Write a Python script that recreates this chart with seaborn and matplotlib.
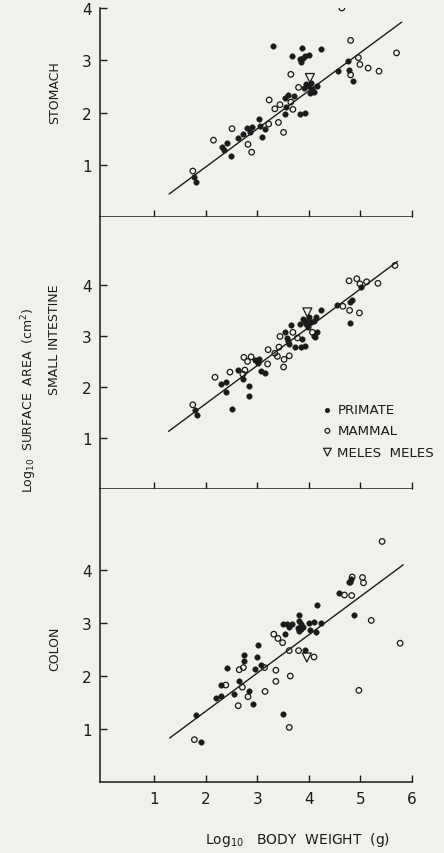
import numpy as np
import pandas as pd
import matplotlib.pyplot as plt
import seaborn as sns

# ---------------------------------------------------------------
# data (log10 body weight, log10 surface area)
# ---------------------------------------------------------------
stomach_primate_x = [1.78, 1.81, 2.31, 2.35, 2.41, 2.49, 2.63, 2.72, 2.81, 2.86, 2.89,
                     3.03, 3.05, 3.09, 3.15, 3.54, 3.60, 3.71, 3.56, 3.54, 3.82, 3.93,
                     3.31, 3.67, 3.87, 3.82, 3.85, 3.89, 3.93, 4.00, 4.24,
                     3.90, 3.95, 3.99, 4.02, 4.06, 4.10, 4.15, 4.05,
                     4.57, 4.75, 4.78, 4.85]
stomach_primate_y = [0.76, 0.67, 1.34, 1.29, 1.42, 1.17, 1.51, 1.59, 1.70, 1.62, 1.72,
                     1.88, 1.75, 1.53, 1.68, 2.27, 2.34, 2.31, 2.10, 1.97, 1.97, 1.99,
                     3.28, 3.08, 3.24, 3.03, 2.97, 3.05, 3.09, 3.11, 3.22,
                     2.47, 2.55, 2.50, 2.38, 2.45, 2.40, 2.50, 2.56,
                     2.79, 2.98, 2.82, 2.61]
stomach_mammal_x = [1.75, 2.15, 2.51, 2.82, 2.89, 3.22, 3.23, 3.34, 3.41, 3.44, 3.51,
                    3.65, 3.69, 3.65, 3.80, 4.64, 4.81, 4.96, 4.99, 5.15, 5.36, 5.70, 4.81]
stomach_mammal_y = [0.88, 1.47, 1.69, 1.39, 1.24, 1.78, 2.24, 2.07, 1.81, 2.15, 1.62,
                    2.20, 2.06, 2.73, 2.48, 4.00, 3.38, 3.05, 2.92, 2.85, 2.79, 3.14, 2.72]
stomach_meles_x = [4.02]
stomach_meles_y = [2.66]
stomach_line_x = [1.29, 5.80]
stomach_line_y = [0.44, 3.73]

intestine_primate_x = [1.79, 1.83, 2.29, 2.40, 2.40, 2.51, 2.63, 2.73, 2.84, 2.83,
                       2.96, 3.00, 3.03, 3.02, 3.07, 3.15,
                       3.53, 3.57, 3.62, 3.65, 3.73, 3.60,
                       3.83, 3.89, 3.95, 3.99, 4.02, 4.10, 3.86, 3.93, 3.84, 4.10, 4.15, 4.14,
                       3.92, 4.00, 4.24, 4.11, 4.55, 4.80, 4.84, 5.01, 4.79]
intestine_primate_y = [1.54, 1.45, 2.06, 2.09, 1.91, 1.56, 2.34, 2.16, 2.01, 1.82,
                       2.53, 2.50, 2.55, 2.47, 2.32, 2.27,
                       3.07, 2.95, 2.84, 3.22, 2.78, 2.90,
                       3.24, 3.33, 3.24, 3.17, 3.27, 3.30, 2.94, 2.81, 2.78, 2.99, 3.08, 3.37,
                       3.30, 3.38, 3.50, 2.97, 3.61, 3.66, 3.70, 3.95, 3.25]
intestine_mammal_x = [1.75, 2.18, 2.47, 2.72, 2.76, 2.74, 2.81, 2.88,
                      3.20, 3.21, 3.34, 3.39, 3.42, 3.52, 3.51, 3.62,
                      3.44, 3.69, 3.78, 4.07,
                      4.66, 4.78, 4.93, 4.99, 5.12, 5.34, 4.79, 4.98, 5.67]
intestine_mammal_y = [1.65, 2.19, 2.29, 2.25, 2.33, 2.58, 2.50, 2.59,
                      2.45, 2.73, 2.66, 2.60, 2.78, 2.54, 2.39, 2.61,
                      2.99, 3.07, 2.96, 3.07,
                      3.58, 4.08, 4.12, 4.02, 4.06, 4.03, 3.50, 3.45, 4.38]
intestine_meles_x = [3.97]
intestine_meles_y = [3.46]
intestine_line_x = [1.28, 5.72]
intestine_line_y = [1.13, 4.46]

colon_primate_x = [1.91, 1.81, 2.19, 2.29, 2.29, 2.41, 2.54, 2.65, 2.74, 2.74, 2.83,
                   2.92, 2.95, 3.00, 3.02, 3.07, 3.53, 3.49, 3.58, 3.62, 3.67, 3.50,
                   3.80, 3.81, 3.78, 3.80, 3.84, 3.88, 3.85, 3.93,
                   4.01, 4.10, 4.23, 4.16, 4.02, 4.13,
                   4.59, 4.77, 4.80, 4.81, 4.88]
colon_primate_y = [0.74, 1.25, 1.57, 1.62, 1.82, 2.14, 1.66, 1.89, 2.27, 2.39, 1.70,
                   1.47, 2.13, 2.35, 2.57, 2.19, 2.78, 2.97, 2.97, 2.92, 2.97, 1.28,
                   3.15, 3.02, 2.90, 2.84, 2.87, 2.92, 2.98, 2.48,
                   3.00, 3.01, 3.00, 3.34, 2.85, 2.82,
                   3.56, 3.76, 3.76, 3.82, 3.15]
colon_mammal_x = [1.78, 2.39, 2.63, 2.65, 2.73, 2.71, 2.82, 3.14, 3.15,
                  3.32, 3.40, 3.49, 3.36, 3.36, 3.62, 3.64, 3.62, 3.80, 4.10,
                  4.69, 4.83, 4.84, 5.04, 5.06, 5.21, 5.42, 5.77, 4.97]
colon_mammal_y = [0.79, 1.82, 1.43, 2.11, 2.15, 1.78, 1.60, 2.15, 1.70,
                  2.78, 2.70, 2.62, 2.10, 1.89, 2.47, 1.99, 1.02, 2.47, 2.35,
                  3.52, 3.51, 3.86, 3.85, 3.75, 3.04, 4.53, 2.61, 1.72]
colon_meles_x = [3.96]
colon_meles_y = [2.34]
colon_line_x = [1.30, 5.83]
colon_line_y = [0.82, 4.09]

x_ticks = [1, 2, 3, 4, 5, 6]
y_ticks = [1, 2, 3, 4]
panel_names = ['STOMACH', 'SMALL INTESTINE', 'COLON']

# ---------------------------------------------------------------
ink = '#1b1b1b'
paper = '#f1f0eb'

sns.set_theme(style='ticks')
plt.rcParams['font.family'] = ['DejaVu Sans']
plt.rcParams['axes.facecolor'] = paper
plt.rcParams['figure.facecolor'] = paper


def draw_panel(ax, px, py, mx, my, tx, ty, lx, ly, top):
    sns.lineplot(x=lx, y=ly, ax=ax, color=ink, linewidth=1.0)
    sns.scatterplot(x=px, y=py, ax=ax, color=ink, edgecolor=ink, s=16, linewidth=0.3,
                    label='PRIMATE', zorder=3)
    sns.scatterplot(x=mx, y=my, ax=ax, color='none', edgecolor=ink, s=16, linewidth=0.9,
                    label='MAMMAL', zorder=3)
    sns.scatterplot(x=tx, y=ty, ax=ax, marker='v', color='none', edgecolor=ink, s=42,
                    linewidth=0.9, label='MELES  MELES', zorder=4)
    ax.set_xlim(-0.05, 6.0)
    ax.set_ylim(0, top)
    ax.set_xticks(x_ticks)
    ax.set_yticks(y_ticks)
    ax.tick_params(direction='in', length=5, width=1.0, color=ink, labelcolor=ink,
                   labelsize=11)
    ax.tick_params(axis='x', pad=7)
    ax.tick_params(axis='y', pad=6)
    for side in ['left', 'bottom']:
        ax.spines[side].set_linewidth(1.1)
        ax.spines[side].set_color(ink)
    sns.despine(ax=ax)
    ax.set_xlabel('')
    ax.set_ylabel('')
    if ax.get_legend() is not None:
        ax.get_legend().remove()


fig = plt.figure(figsize=(4.44, 8.54), dpi=100)
W, H = 444, 854
left, right = 100 / W, 412 / W
ax1 = fig.add_axes([left, 1 - 218 / H, right - left, 209 / H])
ax2 = fig.add_axes([left, 1 - 490 / H, right - left, 272 / H])
ax3 = fig.add_axes([left, 1 - 782.5 / H, right - left, 292.5 / H])

draw_panel(ax1, stomach_primate_x, stomach_primate_y, stomach_mammal_x, stomach_mammal_y,
           stomach_meles_x, stomach_meles_y, stomach_line_x, stomach_line_y, 4.0)
draw_panel(ax2, intestine_primate_x, intestine_primate_y, intestine_mammal_x, intestine_mammal_y,
           intestine_meles_x, intestine_meles_y, intestine_line_x, intestine_line_y, 5.33)
draw_panel(ax3, colon_primate_x, colon_primate_y, colon_mammal_x, colon_mammal_y,
           colon_meles_x, colon_meles_y, colon_line_x, colon_line_y, 5.52)

ax1.tick_params(axis='x', labelbottom=False)
ax2.tick_params(axis='x', labelbottom=False)

leg = ax2.legend(loc='upper left', bbox_to_anchor=(0.716, 0.316), frameon=False,
                 fontsize=9.6, handlelength=0.6, handletextpad=0.45, labelspacing=0.62,
                 borderpad=0, borderaxespad=0, markerscale=0.85)
for t in leg.get_texts():
    t.set_color(ink)

# panel names and axis titles
for name, ycen in zip(panel_names, [93, 340, 649]):
    fig.text(55 / W, 1 - ycen / H, name, rotation=90, ha='center', va='center',
             fontsize=9, color=ink)
fig.text(29 / W, 1 - 400 / H, r'Log$_{10}$  SURFACE  AREA  (cm$^2$)', rotation=90,
         ha='center', va='center', fontsize=9, color=ink)
fig.text(298 / W, 1 - 840 / H, r'Log$_{10}$   BODY  WEIGHT  (g)', ha='center', va='center',
         fontsize=10, color=ink)

plt.savefig('out.png', dpi=100, facecolor=paper)
